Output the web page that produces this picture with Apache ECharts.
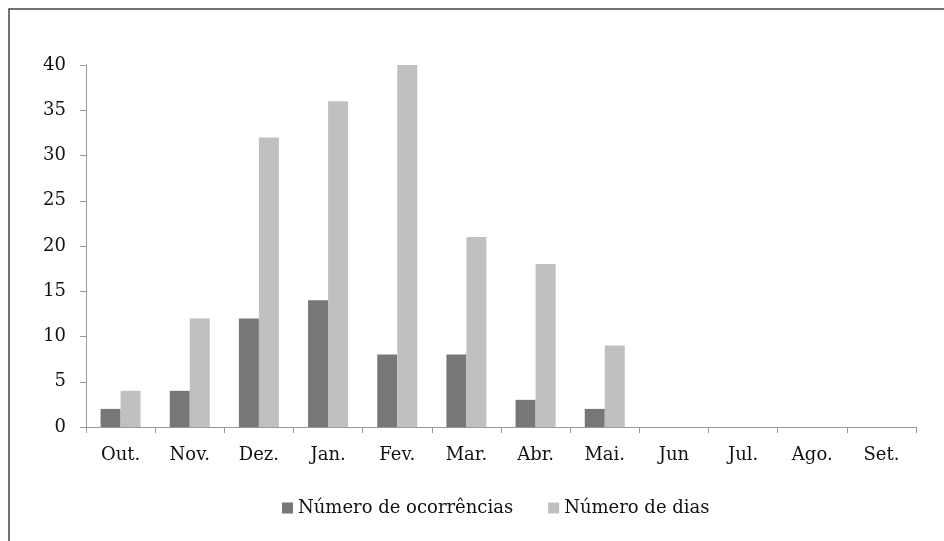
<!DOCTYPE html>
<html><head><meta charset="utf-8">
<script src="https://cdn.jsdelivr.net/npm/echarts@6/dist/echarts.min.js"></script>
<style>html,body{margin:0;padding:0;background:#fff}#c{width:944px;height:541px}</style>
</head><body><div id="c"></div>
<script>
const categories = ["Out.","Nov.","Dez.","Jan.","Fev.","Mar.","Abr.","Mai.","Jun","Jul.","Ago.","Set."];
const ocorrencias = [2,4,12,14,8,8,3,2,0,0,0,0];
const dias = [4,12,32,36,40,21,18,9,0,0,0,0];
const seriesNames = ["Número de ocorrências","Número de dias"];
const yTicks = {min:0,max:40,interval:5};

const font = "'DejaVu Serif', 'Liberation Serif', serif";
const chart = echarts.init(document.getElementById('c'));
chart.setOption({
  animation:false,
  backgroundColor:'#fff',
  graphic:[{type:'rect',shape:{x:9,y:9,width:1000,height:600},style:{fill:'none',stroke:'#444',lineWidth:1.5}}],
  grid:{left:86,right:28,top:65,bottom:114,containLabel:false},
  legend:{
    data:seriesNames,left:277,top:494,icon:'rect',itemWidth:11,itemHeight:11,itemGap:35,
    textStyle:{fontFamily:font,fontSize:18,color:'#111'}
  },
  xAxis:{
    type:'category',data:categories,
    axisLine:{lineStyle:{color:'#999',width:1}},
    axisTick:{show:true,length:6,lineStyle:{color:'#999'}},
    axisLabel:{fontFamily:font,fontSize:18,color:'#111',margin:19}
  },
  yAxis:{
    type:'value',min:yTicks.min,max:yTicks.max,interval:yTicks.interval,
    axisLine:{show:true,lineStyle:{color:'#999',width:1}},
    axisTick:{show:true,length:6,lineStyle:{color:'#999'}},
    splitLine:{show:false},
    axisLabel:{fontFamily:font,fontSize:18,color:'#111',margin:20}
  },
  series:[
    {name:seriesNames[0],type:'bar',data:ocorrencias,barWidth:20,barGap:'0%',itemStyle:{color:'#777777'}},
    {name:seriesNames[1],type:'bar',data:dias,barWidth:20,barGap:'0%',itemStyle:{color:'#c0c0c0'}}
  ]
});
</script></body></html>
